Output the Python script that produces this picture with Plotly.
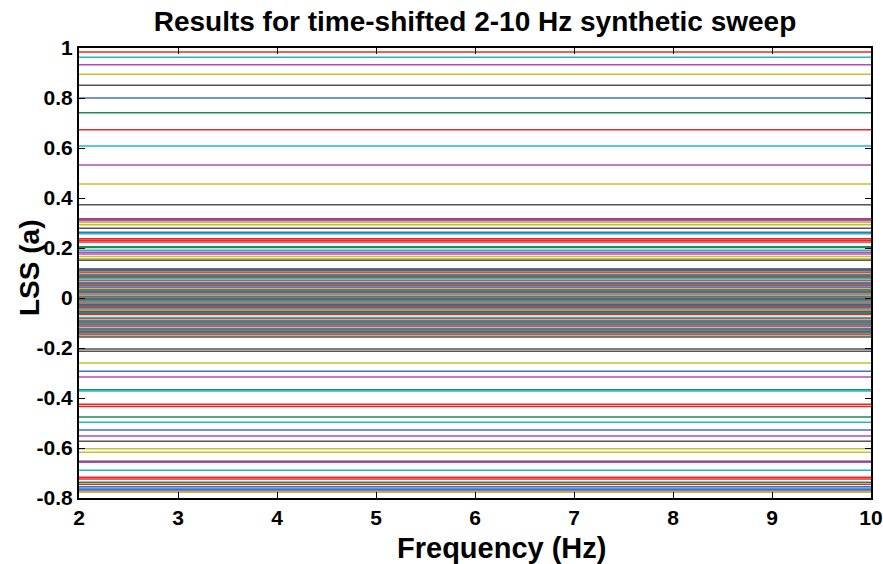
import plotly.graph_objects as go

freq_range = [2, 10]

# LSS values of each horizontal line (top to bottom)
upper_values = [0.984, 0.963, 0.933, 0.895, 0.851, 0.800, 0.741, 0.673, 0.608,
                0.532, 0.456, 0.373, 0.317, 0.313, 0.309, 0.302, 0.293, 0.279,
                0.263, 0.257, 0.237, 0.231, 0.224, 0.205, 0.202, 0.191, 0.183,
                0.176, 0.166, 0.157, 0.151]
upper_colors = ["r", "c", "m", "y", "k", "b", "g", "r", "c", "m", "y", "k",
                "r", "b", "m", "y", "y", "k", "b", "c", "r", "r", "r", "g", "g",
                "c", "m", "m", "y", "y", "k"]

dense_values = [0.117, 0.113, 0.110, 0.105, 0.101, 0.097, 0.092, 0.088, 0.085,
                0.080, 0.076, 0.069, 0.064, 0.060, 0.057, 0.052, 0.048, 0.044,
                0.041, 0.036, 0.032, 0.027, 0.024, 0.020, 0.016, 0.011, 0.008,
                0.004, -0.002, -0.005, -0.010, -0.013, -0.018, -0.022, -0.025,
                -0.030, -0.034, -0.037, -0.042, -0.046, -0.049, -0.054, -0.058,
                -0.062, -0.066, -0.078, -0.083, -0.087, -0.092, -0.096, -0.100,
                -0.106, -0.110, -0.114, -0.120, -0.124, -0.128, -0.133, -0.138,
                -0.142, -0.146, -0.151, -0.156]

lower_values = [-0.204, -0.213, -0.260, -0.293, -0.316, -0.367, -0.372, -0.425,
                -0.434, -0.476, -0.497, -0.528, -0.552, -0.573, -0.603, -0.617,
                -0.653, -0.657, -0.689, -0.717, -0.724, -0.737, -0.745, -0.755,
                -0.761, -0.767, -0.772, -0.777]
lower_colors = ["k", "k", "y", "b", "m", "g", "c", "r", "r", "g", "c", "b", "m",
                "k", "y", "y", "k", "m", "c", "r", "r", "g", "r", "b", "c", "b",
                "m", "y"]

y_tickvals = [1, 0.8, 0.6, 0.4, 0.2, 0, -0.2, -0.4, -0.6, -0.8]
y_ticktext = ["1", "0.8", "0.6", "0.4", "0.2", "0", "-0.2", "-0.4", "-0.6", "-0.8"]
x_tickvals = [2, 3, 4, 5, 6, 7, 8, 9, 10]

palette = {"b": "#4a6cc8", "g": "#1f8a55", "r": "#ee2626", "c": "#20b8c0",
           "m": "#b44cb4", "y": "#c2c232", "k": "#555555"}
cycle = ["b", "g", "r", "c", "m", "y", "k"]
dense_colors = [cycle[i % 7] for i in range(len(dense_values))]

values = upper_values + dense_values + lower_values
colors = upper_colors + dense_colors + lower_colors

fig = go.Figure()
for v, c in zip(values, colors):
    fig.add_trace(go.Scatter(x=freq_range, y=[v, v], mode="lines",
                             line=dict(color=palette[c], width=1.4),
                             showlegend=False, hoverinfo="skip"))

W, H = 883, 564
L, R, T, B = 79, 12, 48, 66
pw, ph = W - L - R, H - T - B

font_family = "Liberation Sans, Arial, sans-serif"
fig.update_layout(
    width=W, height=H,
    margin=dict(l=L, r=R, t=T, b=B, autoexpand=False),
    paper_bgcolor="white", plot_bgcolor="white",
    hovermode=False,
    title=dict(text="Results for time-shifted 2-10 Hz synthetic sweep",
               x=0.5, xref="paper", xanchor="center",
               y=1 - 21 / H, yref="container", yanchor="middle",
               automargin=False,
               font=dict(family=font_family, size=28, color="black", weight="bold")),
    annotations=[
        dict(text="LSS (a)", textangle=-90, xref="paper", yref="paper",
             x=(29 - L) / pw, y=(H - B - 268) / ph,
             xanchor="center", yanchor="middle", showarrow=False,
             font=dict(family=font_family, size=28, color="black", weight="bold")),
        dict(text="Frequency (Hz)", xref="paper", yref="paper",
             x=(501 - L) / pw, y=(H - B - 548) / ph,
             xanchor="center", yanchor="middle", showarrow=False,
             font=dict(family=font_family, size=29, color="black", weight="bold")),
    ],
)
fig.update_xaxes(range=freq_range, tickvals=x_tickvals, automargin=False,
                 ticks="inside", ticklen=6, tickwidth=1, tickcolor="black",
                 showline=True, linecolor="black", linewidth=2, mirror="ticks",
                 showgrid=False, zeroline=False,
                 tickfont=dict(family=font_family, size=21, color="black", weight="bold"))
fig.update_yaxes(range=[-0.8, 1], tickvals=y_tickvals, ticktext=y_ticktext,
                 automargin=False,
                 ticks="inside", ticklen=6, tickwidth=1, tickcolor="black",
                 showline=True, linecolor="black", linewidth=2, mirror="ticks",
                 showgrid=False, zeroline=False,
                 tickfont=dict(family=font_family, size=21, color="black", weight="bold"))

fig.write_html("out.html", config={"displayModeBar": False},
               post_script="document.body.style.margin='0';document.body.style.padding='0';")
